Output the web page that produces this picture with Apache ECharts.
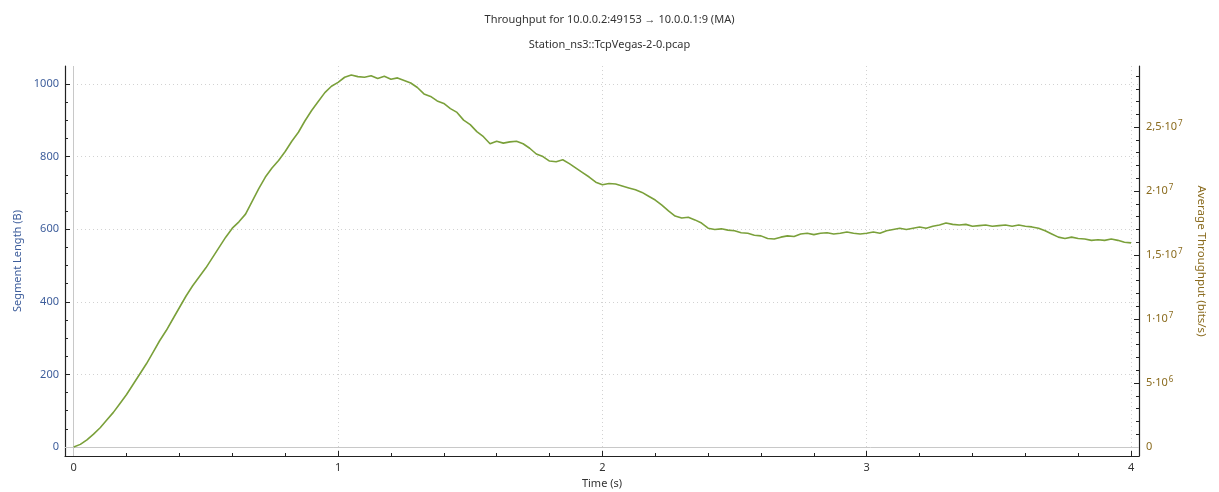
<!DOCTYPE html>
<html>
<head>
<meta charset="utf-8">
<script src="https://cdn.jsdelivr.net/npm/echarts@6/dist/echarts.min.js"></script>
<style>
  html, body { margin: 0; padding: 0; background: #ffffff; }
  #chart { width: 1219px; height: 492px; }
</style>
</head>
<body>
<div id="chart"></div>
<script>
// Sample times (s)
const timeS = [
  0.000, 0.025, 0.050, 0.075, 0.100, 0.125, 0.150, 0.175, 0.200, 0.225,
  0.250, 0.275, 0.300, 0.325, 0.350, 0.375, 0.400, 0.425, 0.450, 0.475,
  0.500, 0.525, 0.550, 0.575, 0.600, 0.625, 0.650, 0.675, 0.700, 0.725,
  0.750, 0.775, 0.800, 0.825, 0.850, 0.875, 0.900, 0.925, 0.950, 0.975,
  1.000, 1.025, 1.050, 1.075, 1.100, 1.125, 1.150, 1.175, 1.200, 1.225,
  1.250, 1.275, 1.300, 1.325, 1.350, 1.375, 1.400, 1.425, 1.450, 1.475,
  1.500, 1.525, 1.550, 1.575, 1.600, 1.625, 1.650, 1.675, 1.700, 1.725,
  1.750, 1.775, 1.800, 1.825, 1.850, 1.875, 1.900, 1.925, 1.950, 1.975,
  2.000, 2.025, 2.050, 2.075, 2.100, 2.125, 2.150, 2.175, 2.200, 2.225,
  2.250, 2.275, 2.300, 2.325, 2.350, 2.375, 2.400, 2.425, 2.450, 2.475,
  2.500, 2.525, 2.550, 2.575, 2.600, 2.625, 2.650, 2.675, 2.700, 2.725,
  2.750, 2.775, 2.800, 2.825, 2.850, 2.875, 2.900, 2.925, 2.950, 2.975,
  3.000, 3.025, 3.050, 3.075, 3.100, 3.125, 3.150, 3.175, 3.200, 3.225,
  3.250, 3.275, 3.300, 3.325, 3.350, 3.375, 3.400, 3.425, 3.450, 3.475,
  3.500, 3.525, 3.550, 3.575, 3.600, 3.625, 3.650, 3.675, 3.700, 3.725,
  3.750, 3.775, 3.800, 3.825, 3.850, 3.875, 3.900, 3.925, 3.950, 3.975,
  4.000
];

// Moving-average throughput (Mbit/s) at each sample time
const throughputMbps = [
  0.00, 0.20, 0.55, 1.00, 1.50, 2.10, 2.70, 3.40, 4.10, 4.90,
  5.70, 6.50, 7.40, 8.30, 9.10, 10.00, 10.90, 11.80, 12.60, 13.30,
  14.00, 14.80, 15.60, 16.40, 17.10, 17.60, 18.20, 19.20, 20.20, 21.10,
  21.80, 22.40, 23.10, 23.90, 24.60, 25.50, 26.30, 27.00, 27.70, 28.20,
  28.50, 28.90, 29.08, 28.95, 28.90, 29.02, 28.80, 28.98, 28.75, 28.85,
  28.65, 28.45, 28.10, 27.60, 27.40, 27.05, 26.85, 26.45, 26.15, 25.55,
  25.20, 24.65, 24.25, 23.70, 23.90, 23.75, 23.85, 23.90, 23.70, 23.35,
  22.90, 22.70, 22.35, 22.30, 22.45, 22.15, 21.80, 21.45, 21.10, 20.70,
  20.50, 20.60, 20.55, 20.40, 20.25, 20.10, 19.90, 19.60, 19.30, 18.90,
  18.45, 18.05, 17.90, 17.95, 17.75, 17.50, 17.10, 17.00, 17.05, 16.95,
  16.90, 16.75, 16.70, 16.55, 16.50, 16.30, 16.25, 16.40, 16.50, 16.45,
  16.65, 16.70, 16.60, 16.70, 16.75, 16.65, 16.70, 16.80, 16.70, 16.65,
  16.70, 16.80, 16.70, 16.90, 17.00, 17.10, 17.00, 17.10, 17.20, 17.10,
  17.25, 17.35, 17.50, 17.40, 17.35, 17.40, 17.25, 17.30, 17.35, 17.25,
  17.30, 17.35, 17.25, 17.35, 17.25, 17.20, 17.10, 16.90, 16.65, 16.40,
  16.30, 16.40, 16.30, 16.25, 16.15, 16.20, 16.15, 16.25, 16.15, 16.00,
  15.95
];

// Tick positions and labels
const timeTicks = [0, 1, 2, 3, 4];
const timeMinorTicks = [0.2, 0.4, 0.6, 0.8, 1.2, 1.4, 1.6, 1.8, 2.2, 2.4, 2.6, 2.8, 3.2, 3.4, 3.6, 3.8];
const segTicks = [0, 200, 400, 600, 800, 1000];
const segMinorTicks = [50, 100, 150, 250, 300, 350, 450, 500, 550, 650, 700, 750, 850, 900, 950];
const rateTicks = [0, 5e6, 1e7, 1.5e7, 2e7, 2.5e7];
const rateTickLabels = ['0', '5·10^6', '1·10^7', '1,5·10^7', '2·10^7', '2,5·10^7'];
const rateMinorTicks = [1e6, 2e6, 3e6, 4e6, 6e6, 7e6, 8e6, 9e6, 11e6, 12e6, 13e6, 14e6,
  16e6, 17e6, 18e6, 19e6, 21e6, 22e6, 23e6, 24e6, 26e6, 27e6, 28e6, 29e6];

const FONT = 'Noto Sans';
const SEG_COLOR = '#3d5d9b';
const RATE_COLOR = '#8a6b1e';
const LINE_COLOR = '#7aa03a';

const seriesData = timeS.map((t, i) => [t, throughputMbps[i] * 1e6]);

const gridRect = { left: 65, right: 80, top: 66, bottom: 36, containLabel: false, outerBoundsMode: 'none' };
const X_RANGE = { min: -0.033, max: 4.03 };
const SEG_RANGE = { min: -25, max: 1050 };
const RATE_RANGE = { min: -0.709e6, max: 29.78e6 };

function rateLabel(value) {
  const idx = rateTicks.findIndex(v => Math.abs(v - value) < 1);
  if (idx < 0) return '';
  const parts = rateTickLabels[idx].split('^');
  return parts.length > 1 ? '{m|' + parts[0] + '}{s|' + parts[1] + '}' : '{m|' + parts[0] + '}';
}

const chart = echarts.init(document.getElementById('chart'), null, { renderer: 'canvas' });

chart.setOption({
  animation: false,
  backgroundColor: '#ffffff',
  textStyle: { fontFamily: FONT },
  title: [
    {
      text: 'Throughput for 10.0.0.2:49153 → 10.0.0.1:9 (MA)',
      left: 'center', top: 9,
      textStyle: { fontFamily: FONT, fontSize: 11, fontWeight: 'normal', color: '#333333' }
    },
    {
      text: 'Station_ns3::TcpVegas-2-0.pcap',
      left: 'center', top: 34,
      textStyle: { fontFamily: FONT, fontSize: 11, fontWeight: 'normal', color: '#333333' }
    }
  ],
  grid: [
    Object.assign({}, gridRect),
    Object.assign({}, gridRect)
  ],
  xAxis: [
    {
      type: 'value', gridIndex: 0, position: 'bottom',
      min: X_RANGE.min, max: X_RANGE.max,
      name: 'Time (s)', nameLocation: 'middle', nameGap: 22,
      nameTextStyle: { fontFamily: FONT, fontSize: 11, color: '#333333' },
      axisLine: { show: true, onZero: false, lineStyle: { color: '#222222', width: 1.2 } },
      axisTick: { show: true, inside: true, length: 5, customValues: timeTicks, lineStyle: { color: '#222222' } },
      axisLabel: { show: true, customValues: timeTicks, margin: 6, fontFamily: FONT, fontSize: 11, color: '#333333',
        formatter: v => String(v) },
      splitLine: { show: true, lineStyle: { color: '#d2d2d2', type: [1, 3] } }
    },
    {
      type: 'value', gridIndex: 1, position: 'bottom',
      min: X_RANGE.min, max: X_RANGE.max,
      axisLine: { show: false, onZero: false },
      axisTick: { show: true, inside: true, length: 3, customValues: timeMinorTicks, lineStyle: { color: '#222222' } },
      axisLabel: { show: false },
      splitLine: { show: false }
    }
  ],
  yAxis: [
    {
      type: 'value', gridIndex: 0, position: 'left',
      min: SEG_RANGE.min, max: SEG_RANGE.max,
      name: 'Segment Length (B)', nameLocation: 'middle', nameGap: 41,
      nameTextStyle: { fontFamily: FONT, fontSize: 11, color: SEG_COLOR },
      axisLine: { show: true, onZero: false, lineStyle: { color: '#222222', width: 1.2 } },
      axisTick: { show: true, inside: true, length: 5, customValues: segTicks, lineStyle: { color: '#222222' } },
      axisLabel: { show: true, customValues: segTicks, margin: 6, fontFamily: FONT, fontSize: 11, color: SEG_COLOR,
        formatter: v => String(v) },
      splitLine: { show: true, lineStyle: { color: '#d2d2d2', type: [1, 3] } }
    },
    {
      type: 'value', gridIndex: 0, position: 'right',
      min: RATE_RANGE.min, max: RATE_RANGE.max,
      name: 'Average Throughput (bits/s)', nameLocation: 'middle', nameGap: 56, nameRotate: -90,
      nameTextStyle: { fontFamily: FONT, fontSize: 11.5, color: RATE_COLOR },
      axisLine: { show: true, onZero: false, lineStyle: { color: '#222222', width: 1.2 } },
      axisTick: { show: true, inside: true, length: 5, customValues: rateTicks, lineStyle: { color: '#222222' } },
      axisLabel: {
        show: true, customValues: rateTicks, margin: 7,
        formatter: rateLabel,
        rich: {
          m: { fontFamily: FONT, fontSize: 11, color: RATE_COLOR },
          s: { fontFamily: FONT, fontSize: 8, color: RATE_COLOR, padding: [0, 0, 7, 1] }
        }
      },
      splitLine: { show: false }
    },
    {
      type: 'value', gridIndex: 1, position: 'left',
      min: SEG_RANGE.min, max: SEG_RANGE.max,
      axisLine: { show: false, onZero: false },
      axisTick: { show: true, inside: true, length: 3, customValues: segMinorTicks, lineStyle: { color: '#222222' } },
      axisLabel: { show: false },
      splitLine: { show: false }
    },
    {
      type: 'value', gridIndex: 1, position: 'right',
      min: RATE_RANGE.min, max: RATE_RANGE.max,
      axisLine: { show: false, onZero: false },
      axisTick: { show: true, inside: true, length: 3, customValues: rateMinorTicks, lineStyle: { color: '#222222' } },
      axisLabel: { show: false },
      splitLine: { show: false }
    }
  ],
  series: [
    {
      name: 'Average Throughput',
      type: 'line',
      xAxisIndex: 0, yAxisIndex: 1,
      data: seriesData,
      showSymbol: false,
      symbol: 'none',
      lineStyle: { color: LINE_COLOR, width: 1.6 },
      z: 5,
      markLine: {
        silent: true,
        symbol: ['none', 'none'],
        label: { show: false },
        lineStyle: { color: '#c8c8c8', type: 'solid', width: 1 },
        data: [{ xAxis: 0 }, { yAxis: 0 }],
        z: 1
      }
    }
  ]
});
</script>
</body>
</html>
